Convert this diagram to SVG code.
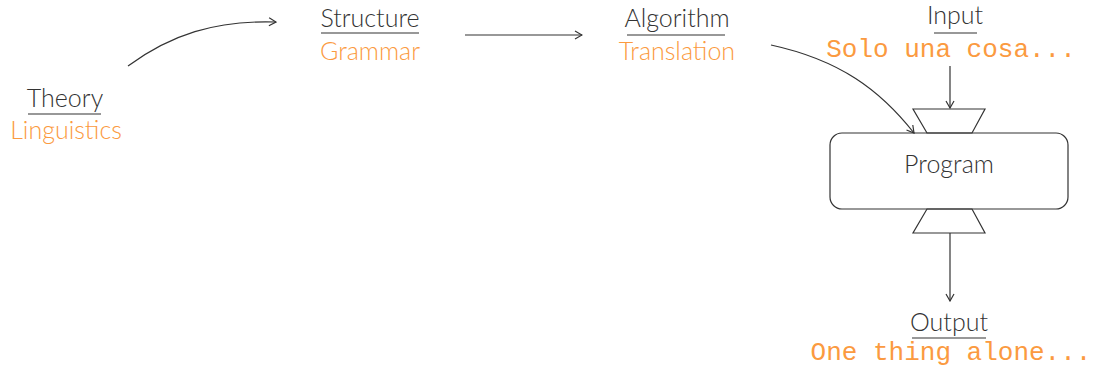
<svg xmlns="http://www.w3.org/2000/svg" width="1093" height="367" viewBox="0 0 1093 367">
<style>
.t{font-family:"Lato","Liberation Sans",sans-serif;font-weight:300;font-size:25px;fill:#333;text-anchor:middle}
.o{font-family:"Lato","Liberation Sans",sans-serif;font-weight:300;font-size:25px;fill:#fb9a40;text-anchor:middle}
.m{font-family:"Liberation Mono",monospace;font-size:26px;fill:#fb9a40;text-anchor:middle}
.u{stroke:#333;stroke-width:1.2}
.s{fill:none;stroke:#333;stroke-width:1.2}
.c{fill:none;stroke:#333;stroke-width:1.2;marker-end:url(#a)}
</style>
<defs>
<marker id="a" viewBox="0 0 10 10" refX="9" refY="5" markerWidth="10" markerHeight="10" markerUnits="userSpaceOnUse" orient="auto">
<path d="M2,1 L9,5 L2,9" fill="none" stroke="#333" stroke-width="1.2"/>
</marker>
</defs>
<g id="theory">
<text class="t" x="65" y="107">Theory</text>
<line class="u" x1="28" y1="114" x2="101" y2="114"/>
<text class="o" x="66" y="139">Linguistics</text>
</g>
<g id="structure">
<text class="t" x="370" y="27">Structure</text>
<line class="u" x1="321" y1="33" x2="419" y2="33"/>
<text class="o" x="370" y="60">Grammar</text>
</g>
<g id="algorithm">
<text class="t" x="677" y="27">Algorithm</text>
<line class="u" x1="627" y1="35" x2="725" y2="35"/>
<text class="o" x="677" y="60">Translation</text>
</g>
<g id="input">
<text class="t" x="955" y="24">Input</text>
<line class="u" x1="934" y1="33" x2="977" y2="33"/>
<text class="m" x="951" y="57">Solo una cosa...</text>
</g>
<g id="program">
<polygon class="s" points="913,109 985,109 972,133 927,133"/>
<rect class="s" x="830" y="133" width="238" height="76" rx="12"/>
<polygon class="s" points="927,209 972,209 985,233 913,233"/>
<text class="t" x="949" y="173">Program</text>
</g>
<g id="output">
<text class="t" x="949" y="331">Output</text>
<line class="u" x1="912" y1="338" x2="986" y2="338"/>
<text class="m" x="951" y="360">One thing alone...</text>
</g>
<g id="connectors">
<path class="c" d="M128,66 C170,35 215,20 276,22"/>
<path class="c" d="M465,35 L582,35"/>
<path class="c" d="M771,45 C840,60 880,90 914,133"/>
<path class="c" d="M950,66 L950,108"/>
<path class="c" d="M950,233 L950,301"/>
</g>
</svg>
